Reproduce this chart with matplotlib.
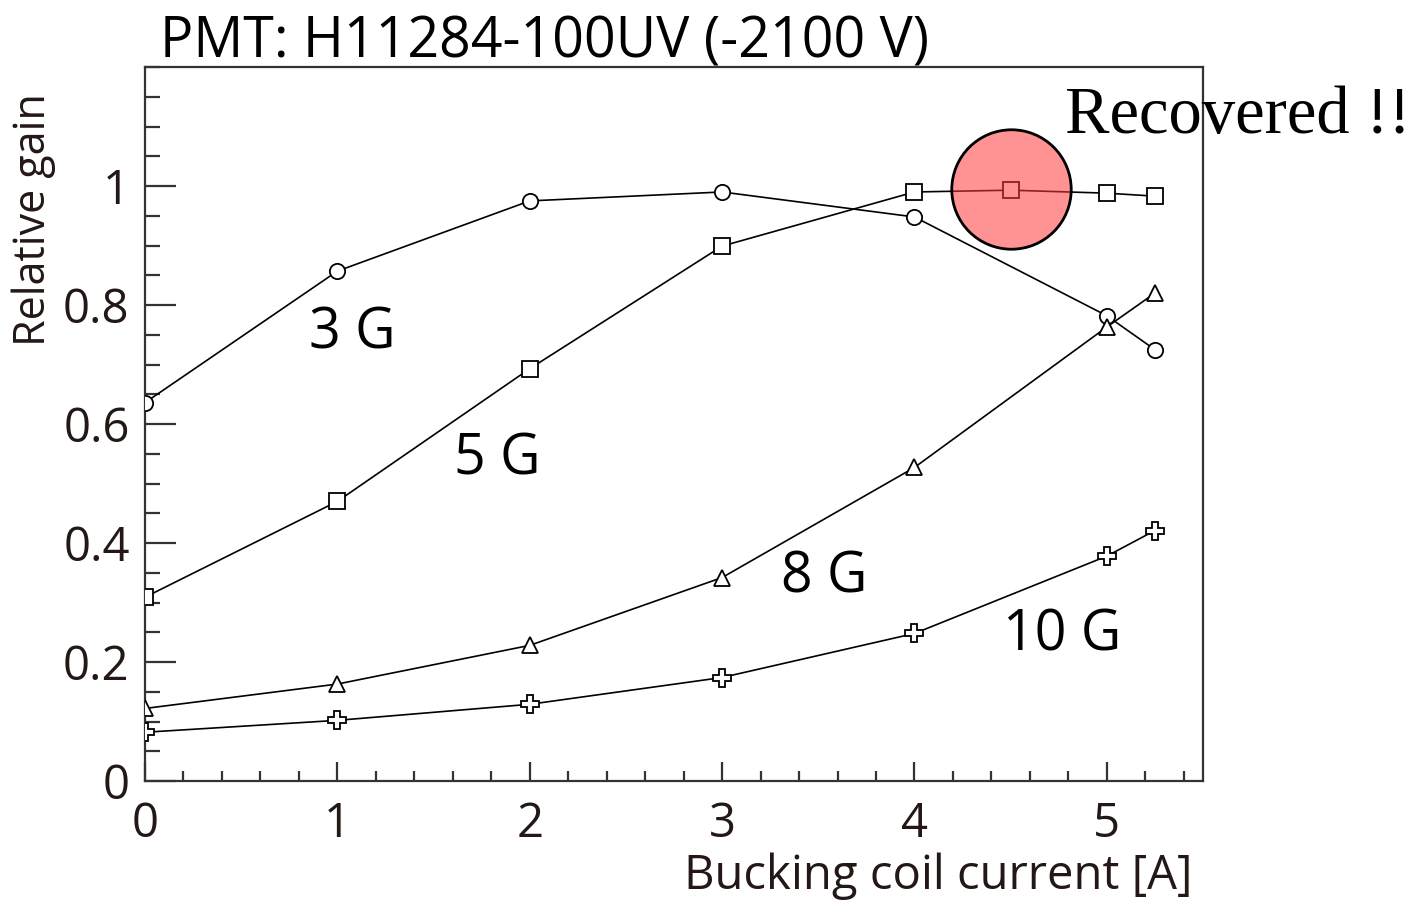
import matplotlib
matplotlib.use("Agg")
import matplotlib.pyplot as plt
from matplotlib.ticker import MultipleLocator, FuncFormatter

x = [0, 1, 2, 3, 4, 5, 5.25]
x5 = [0, 1, 2, 3, 4, 4.5, 5, 5.25]
g3 = [0.636, 0.857, 0.975, 0.990, 0.948, 0.782, 0.725]
g5 = [0.309, 0.470, 0.693, 0.899, 0.990, 0.993, 0.988, 0.983]
g8 = [0.122, 0.163, 0.228, 0.342, 0.527, 0.763, 0.820]
g10 = [0.082, 0.102, 0.129, 0.174, 0.248, 0.378, 0.421]
labels = ["3 G", "5 G", "8 G", "10 G"]
label_pos = [(1.076, 0.752), (1.83, 0.539), (3.53, 0.341), (4.77, 0.243)]
recovered_pt = (4.5, 0.995)

sans = ["Open Sans", "DejaVu Sans"]
plt.rcParams['font.family'] = sans
tc = "#231815"

fig = plt.figure(figsize=(14.26, 9.02), dpi=100)
ax = fig.add_axes([0.1017, 0.1341, 0.7419, 0.7916])

lk = dict(color="black", lw=1.2, mfc="white", mec="black", mew=1.3, zorder=3)
ax.plot(x, g3, marker="o", ms=11, **lk)
ax.plot(x5, g5, marker="s", ms=11, **lk)
ax.plot(x, g8, marker="^", ms=12, **lk)
ax.plot(x, g10, marker="P", ms=13, **lk)

ax.plot([recovered_pt[0]], [recovered_pt[1]], marker="o", ms=86, mfc="#ff3b3b",
        alpha=0.55, mec="none", zorder=4, clip_on=False)
ax.plot([recovered_pt[0]], [recovered_pt[1]], marker="o", ms=86, mfc="none",
        mec="black", mew=2, zorder=5, clip_on=False)

for t, (px, py) in zip(labels, label_pos):
    ax.text(px, py, t, fontsize=40, ha="center", va="center", color="black")

ax.set_xlim(0, 5.5)
ax.set_ylim(0, 1.2)
ax.xaxis.set_major_locator(MultipleLocator(1))
ax.xaxis.set_minor_locator(MultipleLocator(0.2))
ax.yaxis.set_minor_locator(MultipleLocator(0.05))
ax.set_yticks([0, 0.2, 0.4, 0.6, 0.8, 1.0])
ax.yaxis.set_major_formatter(FuncFormatter(lambda v, p: "0" if abs(v) < 1e-9 else ("1" if abs(v-1) < 1e-9 else f"{v:.1f}")))
ax.xaxis.set_major_formatter(FuncFormatter(lambda v, p: f"{int(round(v))}"))
ax.tick_params(axis="both", which="both", direction="in", top=False, right=False,
               colors="#333333", labelcolor=tc, labelsize=34, width=1.6)
ax.tick_params(axis="y", which="major", length=22, pad=11)
ax.tick_params(axis="y", which="minor", length=11)
ax.tick_params(axis="x", which="major", length=14, pad=14)
ax.tick_params(axis="x", which="minor", length=7)
for s in ax.spines.values():
    s.set_color("#333333")
    s.set_linewidth(1.6)

ax.set_ylabel("Relative gain", fontsize=31, color=tc)
ax.yaxis.set_label_coords(-0.084, 0.786)
ax.set_xlabel("Bucking coil current [A]", fontsize=34, color=tc, ha="right")
ax.xaxis.set_label_coords(0.99, -0.10)

fig.text(160/1426, 1-58/902, "PMT: H11284-100UV (-2100 V)", fontsize=40, color="black",
         ha="left", va="baseline")
fig.text(1065/1426, 1-133/902, "Recovered !!", fontsize=48, color="black",
         ha="left", va="baseline", family=["Liberation Serif", "DejaVu Serif"])

fig.savefig("out.png", dpi=100)
